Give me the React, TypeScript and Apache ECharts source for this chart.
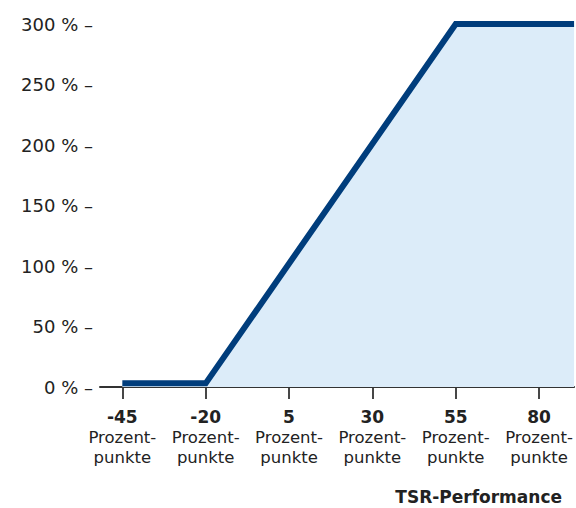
import React, { useEffect, useRef } from "react";
import * as echarts from "echarts";

const xTicks = [-45, -20, 5, 30, 55, 80];
const linePoints: [number, number][] = [
  [-45, 3],
  [-20, 3],
  [55, 300],
  [90.5, 300],
];
const yTicks = [0, 50, 100, 150, 200, 250, 300];
const xName = "TSR-Performance";
const unitLine1 = "Prozent-";
const unitLine2 = "punkte";

const FONT = "'DejaVu Sans', 'Noto Sans', sans-serif";
const TEXT = "#222";

export default function App() {
  const ref = useRef<HTMLDivElement>(null);
  useEffect(() => {
    document.body.style.margin = "0";
    const chart = echarts.init(ref.current!, null, { renderer: "svg" });
    chart.setOption({
      animation: false,
      grid: { left: 100, right: 0, top: 24, bottom: 121, containLabel: false },
      xAxis: {
        type: "value",
        min: -51.7,
        max: 90.5,
        splitLine: { show: false },
        axisLine: { show: true, onZero: false, lineStyle: { color: "#333", width: 2 } },
        axisTick: {
          show: true,
          customValues: xTicks,
          length: 12,
          lineStyle: { color: "#333", width: 1.8 },
        },
        axisLabel: {
          customValues: xTicks,
          margin: 20,
          formatter: (v: number) => `{b|${v}}\n{r|${unitLine1}}\n{r|${unitLine2}}`,
          rich: {
            b: { fontFamily: FONT, fontSize: 17, fontWeight: "bold", color: TEXT, lineHeight: 20, align: "center" },
            r: { fontFamily: FONT, fontSize: 16.5, color: TEXT, lineHeight: 20, align: "center" },
          },
        },
      },
      yAxis: {
        type: "value",
        min: 0,
        max: 300,
        interval: 50,
        splitLine: { show: false },
        axisLine: { show: false },
        axisTick: { show: false },
        axisLabel: {
          margin: 7,
          fontFamily: FONT,
          fontSize: 18,
          color: TEXT,
          formatter: (v: number) => (yTicks.includes(v) ? `${v} % –` : ""),
        },
      },
      series: [
        {
          type: "line",
          data: linePoints,
          symbol: "none",
          clip: false,
          z: 1,
          lineStyle: { color: "#003d7c", width: 6, join: "miter" },
          areaStyle: { color: "#dcecf9", opacity: 1 },
        },
      ],
      graphic: [
        {
          type: "text",
          right: 14,
          top: 488,
          style: { text: xName, fontFamily: FONT, fontSize: 17, fontWeight: "bold", fill: TEXT },
        },
      ],
    });
    return () => chart.dispose();
  }, []);
  return <div ref={ref} style={{ width: 576, height: 508 }} />;
}
